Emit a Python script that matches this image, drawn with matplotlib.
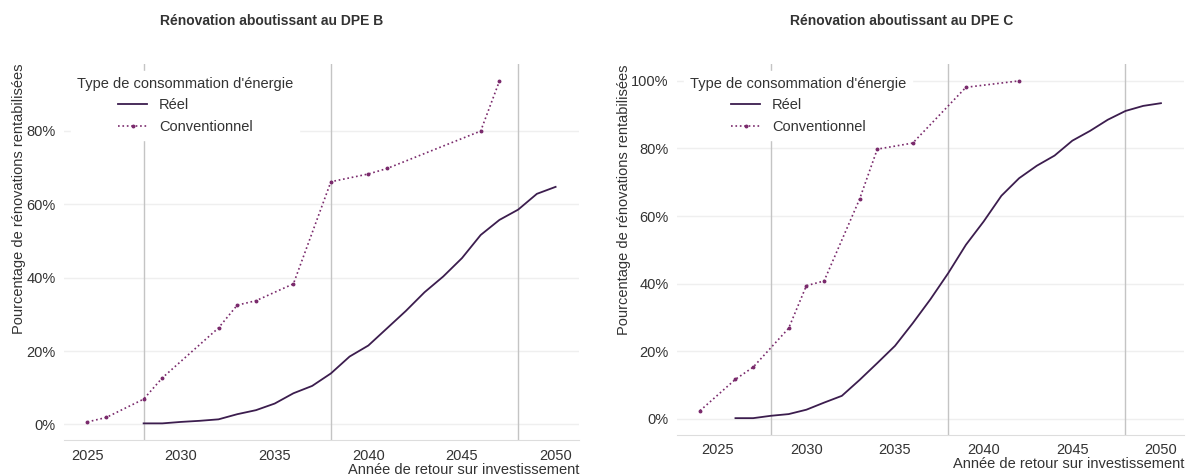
import numpy as np
import matplotlib.pyplot as plt
from matplotlib.ticker import FuncFormatter

plt.rcParams['font.family'] = ['Liberation Sans', 'DejaVu Sans']

# donnees DPE B
annees_b_reel = [2028, 2029, 2030, 2031, 2032, 2033, 2034, 2035, 2036, 2037, 2038, 2039,
                 2040, 2041, 2042, 2043, 2044, 2045, 2046, 2047, 2048, 2049, 2050]
b_reel = [0.3, 0.3, 0.7, 1.0, 1.4, 2.8, 3.9, 5.7, 8.5, 10.5, 13.9, 18.5,
          21.5, 26.2, 30.9, 36.0, 40.3, 45.3, 51.6, 55.7, 58.5, 62.8, 64.7]
annees_b_conv = [2025, 2026, 2028, 2029, 2032, 2033, 2034, 2036, 2038, 2040, 2041, 2046, 2047]
b_conv = [0.7, 1.9, 6.9, 12.7, 26.3, 32.5, 33.7, 38.3, 66.1, 68.2, 69.7, 79.9, 93.5]

# donnees DPE C
annees_c_reel = [2026, 2027, 2028, 2029, 2030, 2031, 2032, 2033, 2034, 2035, 2036, 2037, 2038,
                 2039, 2040, 2041, 2042, 2043, 2044, 2045, 2046, 2047, 2048, 2049, 2050]
c_reel = [0.2, 0.2, 0.9, 1.4, 2.7, 4.8, 6.8, 11.5, 16.5, 21.6, 28.3, 35.4, 43.1,
          51.5, 58.4, 66.0, 71.2, 74.9, 77.9, 82.3, 85.2, 88.5, 91.1, 92.6, 93.4]
annees_c_conv = [2024, 2026, 2027, 2029, 2030, 2031, 2033, 2034, 2036, 2039, 2042]
c_conv = [2.4, 11.7, 15.3, 26.8, 39.4, 40.8, 65.0, 79.8, 81.6, 98.1, 100.0]

lignes_verticales = [2028, 2038, 2048]

col_reel = '#3c1d4e'
col_conv = '#7a2a6c'

fig = plt.figure(figsize=(11.86, 4.76), dpi=100)
ax1 = fig.add_axes([0.054, 0.0746, 0.4342, 0.791])
ax2 = fig.add_axes([0.5708, 0.0861, 0.4275, 0.7794])

panneaux = [(ax1, annees_b_reel, b_reel, annees_b_conv, b_conv),
            (ax2, annees_c_reel, c_reel, annees_c_conv, c_conv)]

for ax, xr, yr, xc, yc in panneaux:
    for a in lignes_verticales:
        ax.axvline(a, color='#c4c4c4', lw=1.0, zorder=1)
    ax.plot(xr, yr, '-', color=col_reel, lw=1.3, label='Réel', zorder=3)
    ax.plot(xc, yc, ':', color=col_conv, lw=1.2, marker='o', markersize=1.8,
            label='Conventionnel', zorder=3)
    ax.margins(x=0.05, y=0.05)
    ax.yaxis.set_major_formatter(FuncFormatter(lambda v, p: '%d%%' % v))
    ax.set_xticks([2025, 2030, 2035, 2040, 2045, 2050])
    ax.grid(axis='y', color='#efefef', lw=1.0, zorder=0)
    ax.set_axisbelow(True)
    for s in ['top', 'right', 'left']:
        ax.spines[s].set_visible(False)
    ax.spines['bottom'].set_color('#dddddd')
    ax.tick_params(axis='both', length=0, labelsize=10.5, colors='#333333', pad=6)
    ax.set_xlabel('Année de retour sur investissement', loc='right', fontsize=10.5,
                  color='#333333', labelpad=0)
    ax.set_ylabel('Pourcentage de rénovations rentabilisées', loc='top', fontsize=10.5,
                  color='#333333')
    leg = ax.legend(title="Type de consommation d'énergie", loc='upper left',
                    fontsize=10.5, title_fontsize=10.5, frameon=True, framealpha=1,
                    edgecolor='white', facecolor='white', borderpad=0.4,
                    labelspacing=0.5, fancybox=False)
    leg.get_title().set_color('#333333')
    for t in leg.get_texts():
        t.set_color('#333333')

ax1.yaxis.set_label_coords(-0.074, 1.0)
ax2.yaxis.set_label_coords(-0.09, 1.0)

fig.text(0.229, 0.955, 'Rénovation aboutissant au DPE B', ha='center', va='center',
         fontsize=10, fontweight='bold', color='#333333')
fig.text(0.760, 0.955, 'Rénovation aboutissant au DPE C', ha='center', va='center',
         fontsize=10, fontweight='bold', color='#333333')

plt.savefig('out.png', dpi=100)
